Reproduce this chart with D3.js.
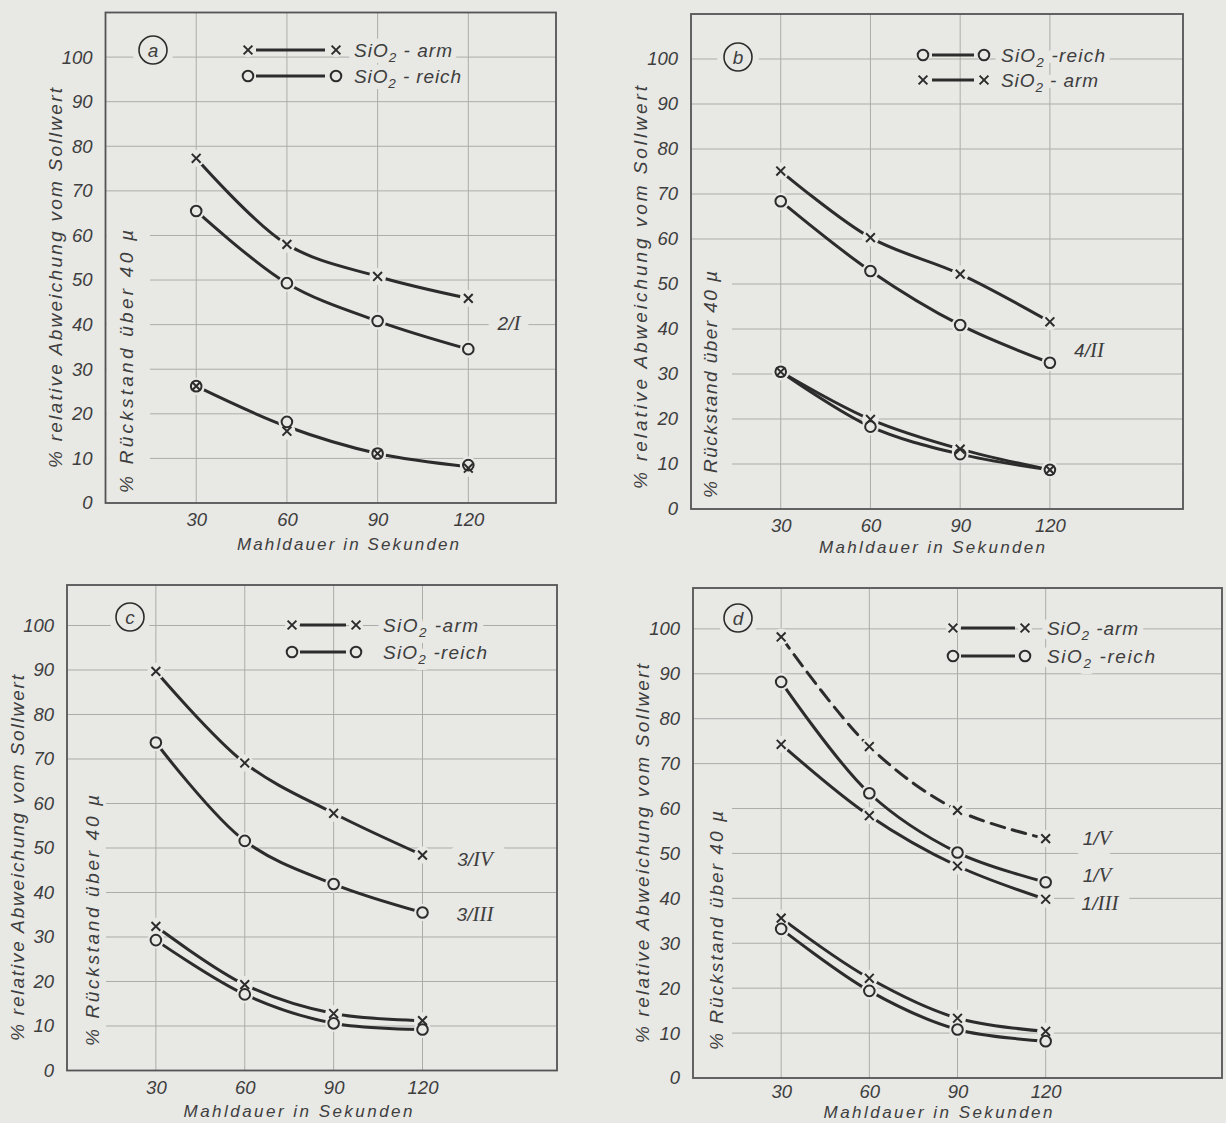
<!DOCTYPE html>
<html>
<head>
<meta charset="utf-8">
<script src="https://cdn.jsdelivr.net/npm/d3@7"></script>
<style>
  html, body { margin: 0; padding: 0; background: #e8e8e5; }
  svg { display: block; }
</style>
</head>
<body>
<svg id="chart" width="1226" height="1123"></svg>
<script>
// ---- Data -------------------------------------------------------------
// Mahldauer in Sekunden
const mahldauer = [30, 60, 90, 120];
const xTicks = [30, 60, 90, 120];
const yTicks = [0, 10, 20, 30, 40, 50, 60, 70, 80, 90, 100];

// (a) Mühle/Mahlkörper 2/I
const aArm        = [77.3, 58.0, 50.8, 45.9];
const aReich      = [65.5, 49.3, 40.8, 34.5];
const aArmRueck   = [26.2, 16.1, 11.1, 7.8];
const aReichRueck = [26.2, 18.2, 11.1, 8.5];

// (b) 4/II
const bArm        = [75.1, 60.3, 52.2, 41.6];
const bReich      = [68.4, 52.9, 40.9, 32.5];
const bArmRueck   = [30.5, 19.9, 13.3, 8.7];
const bReichRueck = [30.5, 18.3, 12.2, 8.7];

// (c) 3/IV (SiO2-arm) and 3/III (SiO2-reich)
const cArm        = [89.7, 69.1, 57.8, 48.4];
const cReich      = [73.7, 51.6, 41.9, 35.5];
const cArmRueck   = [32.4, 19.3, 12.8, 11.2];
const cReichRueck = [29.3, 17.1, 10.6, 9.2];

// (d) 1/V (arm, dashed), 1/V (reich), 1/III (arm)
const dArmV       = [98.2, 73.8, 59.6, 53.3];
const dReichV     = [88.2, 63.4, 50.2, 43.6];
const dArmIII     = [74.3, 58.4, 47.2, 39.8];
const dArmRueck   = [35.6, 22.2, 13.3, 10.4];
const dReichRueck = [33.2, 19.4, 10.8, 8.2];

// ---- Styling ----------------------------------------------------------
const BG = "#e8e8e5";
const INK = "#2c2c2c";
const TXT = "#3e3e3e";
const GRID = "#acacaa";
const FRAME = "#545454";
const SANS = "'Liberation Sans', Arial, sans-serif";
const SERIF = "'Liberation Serif', 'Times New Roman', serif";

const svg = d3.select("#chart");
svg.append("rect").attr("width", 1226).attr("height", 1123).attr("fill", BG);

const meanOf = (p, q) => p.map((v, i) => (v + q[i]) / 2);

// ---- Panel layout -----------------------------------------------------
const panels = [
  {
    letter: "a", left: 105.5, right: 556, top: 12.5, bottom: 503, xMax: 149, yMax: 110,
    outer: { cx: 55, y0: 468, y1: 88 }, inner: { cx: 126, y0: 493, y1: 230, pad: 24 },
    title: { cx: 348, y: 550, len: 222 }, xPad: 10,
    badge: [153, 50],
    legend: { m1: 248, l1: 256, l2: 325, m2: 336, tx: 354,
      rows: [ { y: 50, m: "x", tail: " - arm", len: 98 }, { y: 76, m: "o", tail: " - reich", len: 107 } ] },
    lines: [ { v: aArm }, { v: aReich }, { v: meanOf(aArmRueck, aReichRueck) } ],
    marks: [ { v: aArm, m: "x" }, { v: aReich, m: "o" }, { v: aArmRueck, m: "x" }, { v: aReichRueck, m: "o" } ],
    labels: [ { x: 509, y: 330, a: "2/", r: "I" } ]
  },
  {
    letter: "b", left: 691, right: 1183, top: 14, bottom: 509, xMax: 164.5, yMax: 110,
    outer: { cx: 640, y0: 489, y1: 86 }, inner: { cx: 710, y0: 498, y1: 271, pad: 22 },
    title: { cx: 932, y: 553, len: 226 }, xPad: 10,
    badge: [738, 57],
    legend: { m1: 923, l1: 932, l2: 974, m2: 984, tx: 1001,
      rows: [ { y: 55, m: "o", tail: " -reich", len: 104 }, { y: 80, m: "x", tail: " - arm", len: 97 } ] },
    lines: [ { v: bArm }, { v: bReich }, { v: bArmRueck }, { v: bReichRueck } ],
    marks: [ { v: bArm, m: "x" }, { v: bReich, m: "o" }, { v: bArmRueck, m: "x" }, { v: bReichRueck, m: "o" } ],
    labels: [ { x: 1089, y: 357, a: "4/", r: "II" } ]
  },
  {
    letter: "c", left: 67, right: 557, top: 585, bottom: 1070.5, xMax: 165.4, yMax: 109.1,
    outer: { cx: 17, y0: 1041, y1: 675 }, inner: { cx: 92, y0: 1046, y1: 795, pad: 14 },
    title: { cx: 298, y: 1117, len: 229 }, xPad: 10,
    badge: [130, 617],
    legend: { m1: 292, l1: 300, l2: 346, m2: 356, tx: 383,
      rows: [ { y: 625, m: "x", tail: " -arm", len: 95 }, { y: 652, m: "o", tail: " -reich", len: 104 } ] },
    lines: [ { v: cArm }, { v: cReich }, { v: cArmRueck }, { v: cReichRueck } ],
    marks: [ { v: cArm, m: "x" }, { v: cReich, m: "o" }, { v: cArmRueck, m: "x" }, { v: cReichRueck, m: "o" } ],
    labels: [ { x: 475, y: 866, a: "3/", r: "IV" }, { x: 475, y: 921, a: "3/", r: "III" } ]
  },
  {
    letter: "d", left: 693, right: 1222, top: 588, bottom: 1078, xMax: 180, yMax: 109.1,
    outer: { cx: 642, y0: 1043, y1: 664 }, inner: { cx: 716, y0: 1050, y1: 811, pad: 16 },
    title: { cx: 938, y: 1118, len: 229 }, xPad: 7,
    badge: [738, 618],
    legend: { m1: 953, l1: 961, l2: 1015, m2: 1025, tx: 1047,
      rows: [ { y: 628, m: "x", tail: "  -arm", len: 91 }, { y: 656, m: "o", tail: "  -reich", len: 108 } ] },
    lines: [ { v: dArmV, dash: true }, { v: dReichV }, { v: dArmIII }, { v: dArmRueck }, { v: dReichRueck } ],
    marks: [ { v: dArmV, m: "x" }, { v: dReichV, m: "o" }, { v: dArmIII, m: "x" }, { v: dArmRueck, m: "x" }, { v: dReichRueck, m: "o" } ],
    labels: [ { x: 1097, y: 845, a: "1/", r: "V" }, { x: 1097, y: 882, a: "1/", r: "V" }, { x: 1100, y: 910, a: "1/", r: "III" } ]
  }
];

// ---- Helpers ----------------------------------------------------------
function drawMarker(g, m, cx, cy) {
  if (m === "x") {
    const h = 4.4;
    g.append("path")
      .attr("d", `M${cx - h},${cy - h}L${cx + h},${cy + h}M${cx - h},${cy + h}L${cx + h},${cy - h}`)
      .attr("stroke", INK).attr("stroke-width", 2).attr("fill", "none");
  } else {
    g.append("circle").attr("cx", cx).attr("cy", cy).attr("r", 5.3)
      .attr("fill", "none").attr("stroke", INK).attr("stroke-width", 2);
  }
}

function disc(g, cx, cy, r) {
  g.append("circle").attr("cx", cx).attr("cy", cy).attr("r", r).attr("fill", BG);
}

// Text drawn twice: a wide background-coloured copy that clears the grid,
// then the visible text on top.
function clearedText(g, x, y, halo, build) {
  const under = g.append("text").attr("x", x).attr("y", y)
    .attr("font-family", SANS).attr("font-style", "italic")
    .attr("fill", BG).attr("stroke", BG).attr("stroke-width", halo)
    .attr("stroke-linejoin", "round");
  const over = g.append("text").attr("x", x).attr("y", y)
    .attr("font-family", SANS).attr("font-style", "italic")
    .attr("fill", TXT);
  build(under); build(over);
  return over;
}

function verticalTitle(g, cx, y0, y1, str, size) {
  g.append("text")
    .attr("transform", `translate(${cx + size * 0.36},${y0}) rotate(-90)`)
    .attr("font-family", SANS).attr("font-style", "italic").attr("font-size", size)
    .attr("fill", TXT)
    .attr("textLength", y0 - y1).attr("lengthAdjust", "spacing")
    .text(str);
}

// ---- Panels -----------------------------------------------------------
panels.forEach(p => {
  const g = svg.append("g").attr("class", "panel-" + p.letter);
  const x = d3.scaleLinear().domain([0, p.xMax]).range([p.left, p.right]);
  const y = d3.scaleLinear().domain([0, p.yMax]).range([p.bottom, p.top]);

  // grid
  const grid = g.append("g").attr("stroke", GRID).attr("stroke-width", 1);
  grid.selectAll("line.v").data(xTicks).join("line").attr("class", "v")
    .attr("x1", d => x(d)).attr("x2", d => x(d)).attr("y1", p.top).attr("y2", p.bottom);
  grid.selectAll("line.h").data(yTicks.filter(d => d > 0)).join("line").attr("class", "h")
    .attr("x1", p.left).attr("x2", p.right).attr("y1", d => y(d)).attr("y2", d => y(d));

  // cleared band behind the inner axis title
  g.append("rect")
    .attr("x", p.left + 1).attr("y", p.inner.y1 - 8)
    .attr("width", p.inner.cx + p.inner.pad - p.left - 1)
    .attr("height", p.inner.y0 - p.inner.y1 + 10)
    .attr("fill", BG);

  // frame
  g.append("rect").attr("x", p.left).attr("y", p.top)
    .attr("width", p.right - p.left).attr("height", p.bottom - p.top)
    .attr("fill", "none").attr("stroke", FRAME).attr("stroke-width", 1.8);

  // axes
  const yAxis = g.append("g").attr("transform", `translate(${p.left},0)`)
    .call(d3.axisLeft(y).tickValues(yTicks).tickSize(0).tickPadding(13).tickFormat(d3.format("d")));
  const xAxis = g.append("g").attr("transform", `translate(0,${p.bottom})`)
    .call(d3.axisBottom(x).tickValues(xTicks).tickSize(0).tickPadding(p.xPad).tickFormat(d3.format("d")));
  [yAxis, xAxis].forEach(ax => {
    ax.select(".domain").remove();
    ax.attr("font-family", SANS).attr("font-size", 18.5).attr("font-style", "italic");
    ax.selectAll("text").attr("fill", TXT);
  });

  // axis titles
  verticalTitle(g, p.outer.cx, p.outer.y0, p.outer.y1, "% relative  Abweichung  vom  Sollwert", 19);
  verticalTitle(g, p.inner.cx, p.inner.y0, p.inner.y1, "% Rückstand  über  40 µ", 19);
  g.append("text")
    .attr("x", p.title.cx - p.title.len / 2).attr("y", p.title.y)
    .attr("font-family", SANS).attr("font-style", "italic").attr("font-size", 17)
    .attr("fill", TXT).attr("textLength", p.title.len).attr("lengthAdjust", "spacing")
    .text("Mahldauer  in  Sekunden");

  // panel badge
  g.append("circle").attr("cx", p.badge[0]).attr("cy", p.badge[1]).attr("r", 14)
    .attr("fill", BG).attr("stroke", BG).attr("stroke-width", 14);
  g.append("circle").attr("cx", p.badge[0]).attr("cy", p.badge[1]).attr("r", 14)
    .attr("fill", "none").attr("stroke", INK).attr("stroke-width", 1.6);
  g.append("text").attr("x", p.badge[0]).attr("y", p.badge[1] + 6.5)
    .attr("text-anchor", "middle").attr("font-family", SANS).attr("font-style", "italic")
    .attr("font-size", 19).attr("fill", TXT).text(p.letter);

  // curve labels
  p.labels.forEach(l => {
    clearedText(g, l.x, l.y, 20, t => {
      t.attr("text-anchor", "middle").attr("font-size", 19);
      t.append("tspan").text(l.a);
      t.append("tspan").attr("font-family", SERIF).attr("font-size", 21).text(l.r);
    });
  });

  // legend text
  const lg = p.legend;
  lg.rows.forEach(r => {
    clearedText(g, lg.tx, r.y + 6.5, 12, t => {
      t.attr("font-size", 19).attr("textLength", r.len).attr("lengthAdjust", "spacing");
      t.append("tspan").text("SiO");
      t.append("tspan").attr("dy", 5).attr("font-size", 13.5).text("2");
      t.append("tspan").attr("dy", -5).text(r.tail);
    });
  });

  // curves
  const line = d3.line()
    .x((d, i) => x(mahldauer[i]))
    .y(d => y(d))
    .curve(d3.curveCatmullRom.alpha(0.5));
  p.lines.forEach(l => {
    g.append("path").attr("d", line(l.v))
      .attr("fill", "none").attr("stroke", INK).attr("stroke-width", 3)
      .attr("stroke-linecap", "round")
      .attr("stroke-dasharray", l.dash ? "14 8" : null);
  });

  // clear gaps around the data points, then draw the markers
  p.marks.forEach(s => s.v.forEach((v, i) => disc(g, x(mahldauer[i]), y(v), 8.5)));
  p.marks.forEach(s => s.v.forEach((v, i) => drawMarker(g, s.m, x(mahldauer[i]), y(v))));

  // legend symbols
  lg.rows.forEach(r => {
    g.append("line").attr("x1", lg.l1).attr("x2", lg.l2).attr("y1", r.y).attr("y2", r.y)
      .attr("stroke", INK).attr("stroke-width", 3);
    disc(g, lg.m1, r.y, 7); disc(g, lg.m2, r.y, 7);
    drawMarker(g, r.m, lg.m1, r.y);
    drawMarker(g, r.m, lg.m2, r.y);
  });
});
</script>
</body>
</html>
